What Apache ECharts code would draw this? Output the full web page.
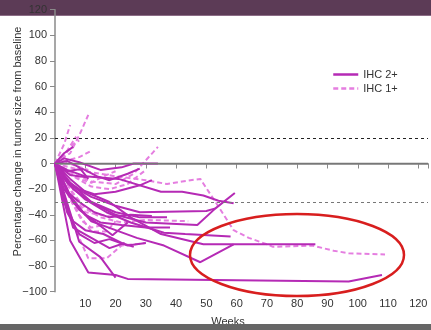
<!DOCTYPE html>
<html>
<head>
<meta charset="utf-8">
<script src="https://cdn.jsdelivr.net/npm/echarts@6/dist/echarts.min.js"></script>
<style>html,body{margin:0;padding:0;background:#fff}#c{width:431px;height:330px}</style>
</head>
<body>
<div id="c"></div>
<script>
// ---- Tick labels / axes ----
const xTicks = [10, 20, 30, 40, 50, 60, 70, 80, 90, 100, 110, 120];
const yTicks = [-100, -80, -60, -40, -20, 0, 20, 40, 60, 80, 100, 120];
const refLines = [20, 0, -30];

// ---- IHC 2+ (solid) patients: [week, % change] ----
const s01 = [[0,0],[5,-60],[11,-85],[20,-87],[24,-90],[60,-91],[97,-92],[108,-87]];
const s02 = [[0,0],[8,-61],[15,-73],[20,-89]];
const s03 = [[0,0],[4,-38],[8,-55],[13,-62],[18,-59],[24,-64],[30,-62]];
const s04 = [[0,0],[6,-50],[12,-58],[18,-66],[23,-62]];
const s05 = [[0,0],[3,-20],[8,-36],[13,-45],[19,-56],[24,-46]];
const s06 = [[0,0],[5,-12],[10,-22],[18,-30],[25,-42],[35,-55],[49,-63],[86,-63]];
const s07 = [[0,0],[6,-30],[12,-45],[20,-52],[27,-58],[36,-64],[48,-77],[59,-63]];
const s08 = [[0,0],[4,-15],[10,-28],[17,-38],[25,-46],[36,-54],[43,-55],[58,-57]];
const s09 = [[0,0],[5,-15],[12,-30],[20,-40],[30,-46],[47,-48],[53,-35],[59.4,-23]];
const s10 = [[0,0],[6,-18],[12,-26],[20,-33],[28,-38],[50,-37],[53,-35]];
const s11 = [[0,0],[4,-5],[10,-10],[21,-12],[35,-22],[42,-22],[49,-25],[54,-29],[59,-31]];
const s12 = [[0,0],[3,4],[8,1],[15,-5],[22,-3],[26,0],[34,0]];
const s13 = [[0,0],[6,-20],[12,-30],[20,-38],[28,-42],[37,-42]];
const s14 = [[0,0],[3,8],[6,13]];
const s15 = [[0,0],[5,-9],[11,-11]];
const s16 = [[0,0],[4,-22],[8,-30],[13,-38],[18,-42],[25,-40],[32,-41]];
const s17 = [[0,0],[3,-12],[8,-20],[13,-24],[20,-22],[28,-17],[32,-13]];
const s18 = [[0,0],[2,-10],[5,-25],[10,-40],[15,-46],[22,-48],[30,-50],[38,-50]];
const s19 = [[0,0],[4,-6],[9,-4],[14,-10],[18,-13],[24,-8],[28,-4]];
const s20 = [[0,0],[3,-30],[6,-45],[10,-52],[16,-55],[22,-62],[26,-65]];
const s21 = [[0,0],[4,2],[8,-3],[11,-12]];

// ---- IHC 1+ (dashed) patients ----
const d01 = [[0,0],[5,-3],[10,-6],[20,-10],[30,-13],[37,-16],[42,-14],[48,-12],[53,-30],[59,-52],[64,-58],[70,-63],[72,-65],[85,-64],[92,-68],[97,-70],[109,-71]];
const d02 = [[0,0],[6,-8],[12,-14],[20,-16],[26,-8],[34,13]];
const d03 = [[0,0],[5,8],[8,22],[11,38]];
const d04 = [[0,0],[3,15],[5,30]];
const d05 = [[0,0],[4,10],[7,21]];
const d06 = [[0,0],[5,3],[8,5],[12,10]];
const d07 = [[0,0],[3,6],[6,15],[8,18]];
const d08 = [[0,0],[4,-20],[8,-40],[12,-53],[17,-53],[20,-45]];
const d09 = [[0,0],[4,-35],[8,-58],[11,-74],[17,-74],[22,-64],[30,-62]];
const d10 = [[0,0],[5,-20],[10,-35],[15,-42],[22,-46],[30,-44],[44,-45]];
const d11 = [[0,0],[6,-10],[12,-18],[18,-20],[24,-16],[30,-5]];
const d12 = [[0,0],[3,-10],[6,-25],[10,-38],[15,-40],[20,-42]];
const d13 = [[0,0],[4,-5],[8,-12],[12,-15],[16,-10],[20,-6]];
const d14 = [[0,0],[5,-28],[9,-45],[12,-50],[16,-48]];
const d15 = [[0,0],[3,2],[7,-2],[11,-5]];

const solidLines = [s01,s02,s03,s04,s05,s06,s07,s08,s09,s10,s11,s12,s13,s14,s15,s16,s17,s18,s19,s20,s21];
const dashedLines = [d01,d02,d03,d04,d05,d06,d07,d08,d09,d10,d11,d12,d13,d14,d15];

const SOLID = '#b52ab5';
const DASH = '#e57ee0';
const FONT = 'Liberation Sans, Arial, sans-serif';

const series = [];
solidLines.forEach(d => series.push({
  type: 'line', name: 'IHC 2+', data: d, symbol: 'none', silent: true, z: 3,
  lineStyle: { color: SOLID, width: 2 }, itemStyle: { color: SOLID }
}));
dashedLines.forEach(d => series.push({
  type: 'line', name: 'IHC 1+', data: d, symbol: 'none', silent: true, z: 2,
  lineStyle: { color: DASH, width: 2, type: [5, 3] }, itemStyle: { color: DASH }
}));
series.push({
  type: 'line', data: [], silent: true, z: 1,
  markLine: {
    silent: true, symbol: 'none', label: { show: false },
    data: [
      { yAxis: refLines[0], lineStyle: { color: '#222', width: 1, type: [3, 3] } },
      { yAxis: refLines[1], lineStyle: { color: '#777', width: 1.3, type: 'solid' } },
      { yAxis: refLines[2], lineStyle: { color: '#777', width: 1, type: [3, 3] } }
    ]
  }
});

const chart = echarts.init(document.getElementById('c'), null, { renderer: 'canvas' });
chart.setOption({
  animation: false,
  backgroundColor: '#fff',
  grid: { left: 55, right: 0, top: 9.7, bottom: 38.3, containLabel: false },
  xAxis: {
    type: 'value', min: 0, max: 123.2, interval: 10,
    axisLine: { lineStyle: { color: '#8a8a8a', width: 1.5 } },
    axisTick: { show: true, length: 5, lineStyle: { color: '#8a8a8a' } },
    splitLine: { show: false },
    axisLabel: {
      color: '#333', fontSize: 11, fontFamily: FONT, margin: 7,
      formatter: v => (xTicks.indexOf(v) >= 0 ? String(v) : '')
    }
  },
  yAxis: {
    type: 'value', min: -100, max: 120, interval: 20,
    axisLine: { show: true, lineStyle: { color: '#8a8a8a', width: 1.5 } },
    axisTick: { show: true, length: 5, lineStyle: { color: '#8a8a8a' } },
    splitLine: { show: false },
    axisLabel: {
      color: '#333', fontSize: 11, fontFamily: FONT, margin: 8,
      formatter: v => (yTicks.indexOf(v) >= 0 ? String(v).replace('-', '\u2212') : '')
    }
  },
  legend: {
    data: ['IHC 2+', 'IHC 1+'],
    orient: 'vertical', left: 332, top: 69, padding: 0,
    itemWidth: 25, itemHeight: 12, itemGap: 3,
    itemStyle: { opacity: 0 },
    lineStyle: { width: 2.5 },
    textStyle: { color: '#333', fontSize: 11, fontFamily: FONT },
    selectedMode: false
  },
  graphic: [
    { type: 'rect', z: -10, shape: { x: 0, y: 0, width: 431, height: 15 }, style: { fill: '#5c3b56' } },
    { type: 'rect', z: -10, shape: { x: 0, y: 15, width: 431, height: 1 }, style: { fill: '#8c6c86' } },
    { type: 'rect', z: 100, shape: { x: 0, y: 324, width: 431, height: 6 }, style: { fill: '#666666' } },
    { type: 'ellipse', z: 100, shape: { cx: 297, cy: 255, rx: 107, ry: 41 },
      style: { fill: 'none', stroke: '#d81e1e', lineWidth: 2.5 } },
    { type: 'text', z: 50, x: 17.5, y: 141.5, rotation: Math.PI / 2, originX: 0, originY: 0,
      style: { text: 'Percentage change in tumor size from baseline', fill: '#333', font: '11px ' + FONT,
        textAlign: 'center', textVerticalAlign: 'middle' } },
    { type: 'text', z: 50, x: 228, y: 321.5,
      style: { text: 'Weeks', fill: '#333', font: '11px ' + FONT, textAlign: 'center', textVerticalAlign: 'middle' } }
  ],
  series: series
});
</script>
</body>
</html>
